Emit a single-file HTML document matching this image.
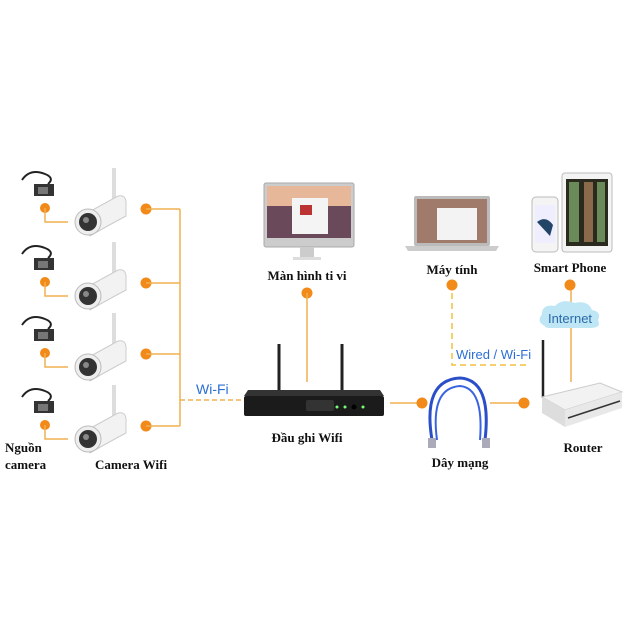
<!DOCTYPE html>
<html><head><meta charset="utf-8"><style>html,body{margin:0;padding:0;background:#fff}svg{display:block}
text{font-family:"Liberation Serif",serif;font-weight:bold;fill:#111}
.b{font-family:"Liberation Sans",sans-serif;font-weight:normal;fill:#2a6fd6}
</style></head><body>
<svg width="640" height="640" viewBox="0 0 640 640" xmlns="http://www.w3.org/2000/svg">
<defs>
<g id="cam">
  <line x1="114" y1="-40" x2="114" y2="-5" stroke="#ddd" stroke-width="4"/>
  <path d="M78 10 L118 -12 Q127 -14 126 -2 L126 8 Q100 22 90 28 Z" fill="#f2f2f2" stroke="#ccc"/>
  <circle cx="88" cy="14" r="13" fill="#eee" stroke="#bbb"/>
  <circle cx="88" cy="14" r="9" fill="#333"/>
  <circle cx="86" cy="12" r="3" fill="#888"/>
</g>
<g id="pw">
  <path d="M22 -28 Q30 -40 45 -34 Q55 -30 48 -24" fill="none" stroke="#222" stroke-width="2"/>
  <rect x="34" y="-24" width="20" height="12" fill="#333"/>
  <rect x="38" y="-21" width="10" height="7" fill="#777"/>
</g>
</defs>

<!-- cameras -->
<g id="c1" transform="translate(0,208)">
  <use href="#pw"/><circle cx="45" cy="0" r="5" fill="#f28a1a"/>
  <polyline points="45,0 45,14 68,14" fill="none" stroke="#f0b050" stroke-width="1.5"/>
  <use href="#cam"/>
  <circle cx="146" cy="1" r="5.5" fill="#f28a1a"/><line x1="146" y1="1" x2="180" y2="1" stroke="#f0b050" stroke-width="1.5"/>
</g>
<g transform="translate(0,282)">
  <use href="#pw"/><circle cx="45" cy="0" r="5" fill="#f28a1a"/>
  <polyline points="45,0 45,14 68,14" fill="none" stroke="#f0b050" stroke-width="1.5"/>
  <use href="#cam"/>
  <circle cx="146" cy="1" r="5.5" fill="#f28a1a"/><line x1="146" y1="1" x2="180" y2="1" stroke="#f0b050" stroke-width="1.5"/>
</g>
<g transform="translate(0,353)">
  <use href="#pw"/><circle cx="45" cy="0" r="5" fill="#f28a1a"/>
  <polyline points="45,0 45,14 68,14" fill="none" stroke="#f0b050" stroke-width="1.5"/>
  <use href="#cam"/>
  <circle cx="146" cy="1" r="5.5" fill="#f28a1a"/><line x1="146" y1="1" x2="180" y2="1" stroke="#f0b050" stroke-width="1.5"/>
</g>
<g transform="translate(0,425)">
  <use href="#pw"/><circle cx="45" cy="0" r="5" fill="#f28a1a"/>
  <polyline points="45,0 45,14 68,14" fill="none" stroke="#f0b050" stroke-width="1.5"/>
  <use href="#cam"/>
  <circle cx="146" cy="1" r="5.5" fill="#f28a1a"/><line x1="146" y1="1" x2="180" y2="1" stroke="#f0b050" stroke-width="1.5"/>
</g>
<line x1="180" y1="209" x2="180" y2="426" stroke="#f0b050" stroke-width="1.5"/>
<line x1="180" y1="400" x2="245" y2="400" stroke="#f0b050" stroke-width="1.5" stroke-dasharray="5,3"/>
<text class="b" x="196" y="394" font-size="14">Wi-Fi</text>
<text x="5" y="452" font-size="13">Nguồn</text>
<text x="5" y="469" font-size="13">camera</text>
<text x="95" y="469" font-size="13">Camera Wifi</text>

<!-- monitor -->
<rect x="264" y="183" width="90" height="64" rx="2" fill="#ccc" stroke="#aaa"/>
<rect x="267" y="186" width="84" height="52" fill="#6a4a5a"/>
<rect x="267" y="186" width="84" height="20" fill="#e7b79a"/>
<rect x="292" y="198" width="36" height="36" fill="#f4f4f4"/>
<rect x="300" y="205" width="12" height="10" fill="#b33"/>
<rect x="300" y="247" width="14" height="10" fill="#ccc"/>
<rect x="293" y="257" width="28" height="3" fill="#ddd"/>
<text x="307" y="280" font-size="13" text-anchor="middle">Màn hình ti vi</text>
<circle cx="307" cy="293" r="5.5" fill="#f28a1a"/>
<line x1="307" y1="293" x2="307" y2="382" stroke="#f0b050" stroke-width="1.5"/>

<!-- DVR -->
<line x1="279" y1="344" x2="279" y2="390" stroke="#222" stroke-width="3"/>
<line x1="342" y1="344" x2="342" y2="390" stroke="#222" stroke-width="3"/>
<path d="M248 390 L380 390 L384 396 L244 396 Z" fill="#333"/>
<rect x="244" y="396" width="140" height="20" rx="2" fill="#1b1b1b"/>
<rect x="306" y="400" width="28" height="11" rx="2" fill="#333"/>
<circle cx="337" cy="407" r="1.5" fill="#7f7"/><circle cx="345" cy="407" r="1.5" fill="#7f7"/><circle cx="363" cy="407" r="1.5" fill="#7f7"/>
<circle cx="354" cy="407" r="2.5" fill="#000"/>
<text x="307" y="442" font-size="13" text-anchor="middle">Đầu ghi Wifi</text>
<line x1="390" y1="403" x2="422" y2="403" stroke="#f0b050" stroke-width="1.5"/>
<circle cx="422" cy="403" r="5.5" fill="#f28a1a"/>

<!-- cable -->
<path d="M432 440 Q422 380 460 378 Q492 380 485 440" fill="none" stroke="#2a4fc8" stroke-width="3"/>
<path d="M437 440 Q430 388 460 386 Q484 388 480 440" fill="none" stroke="#3a63e0" stroke-width="2"/>
<rect x="428" y="438" width="8" height="10" fill="#aab"/><rect x="482" y="438" width="8" height="10" fill="#aab"/>
<text x="460" y="467" font-size="13" text-anchor="middle">Dây mạng</text>
<line x1="490" y1="403" x2="524" y2="403" stroke="#f0b050" stroke-width="1.5"/>
<circle cx="524" cy="403" r="5.5" fill="#f28a1a"/>

<!-- laptop -->
<rect x="414" y="196" width="76" height="50" rx="2" fill="#bbb"/>
<rect x="417" y="199" width="70" height="44" fill="#a07a6a"/>
<rect x="437" y="208" width="40" height="32" fill="#f3f3f3"/>
<path d="M405 246 L499 246 L496 251 L408 251 Z" fill="#ccc"/>
<text x="452" y="274" font-size="13" text-anchor="middle">Máy tính</text>
<circle cx="452" cy="285" r="5.5" fill="#f28a1a"/>
<polyline points="452,293 452,365 530,365" fill="none" stroke="#f0c040" stroke-width="1.5" stroke-dasharray="6,4"/>
<text class="b" x="456" y="359" font-size="13">Wired / Wi-Fi</text>

<!-- phone & tablet -->
<rect x="532" y="197" width="26" height="55" rx="4" fill="#f4f4f4" stroke="#bbb"/>
<rect x="535" y="205" width="20" height="38" fill="#eef"/>
<path d="M537 222 Q546 215 553 225 L550 236 Z" fill="#246"/>
<rect x="562" y="173" width="50" height="79" rx="3" fill="#f4f4f4" stroke="#bbb"/>
<rect x="566" y="179" width="42" height="67" fill="#2a2a1e"/>
<g fill="#6a8a5a"><rect x="569" y="182" width="10" height="60"/><rect x="584" y="182" width="9" height="60" fill="#8a6a4a"/><rect x="597" y="182" width="8" height="60"/></g>
<text x="570" y="272" font-size="13" text-anchor="middle">Smart Phone</text>
<circle cx="570" cy="285" r="5.5" fill="#f28a1a"/>
<line x1="571" y1="290" x2="571" y2="382" stroke="#f0b050" stroke-width="1.5"/>
<path d="M545 326 Q536 322 542 314 Q542 304 555 306 Q562 298 575 303 Q588 300 592 310 Q602 312 598 320 Q602 328 590 328 L550 328 Q545 328 545 326 Z" fill="#bfe6f5"/>
<text class="b" x="570" y="323" font-size="13" text-anchor="middle" style="fill:#2a6aa8">Internet</text>

<!-- router -->
<line x1="543" y1="340" x2="543" y2="398" stroke="#222" stroke-width="2.5"/>
<path d="M542 397 L600 383 L622 392 L565 410 Z" fill="#f2f2f2" stroke="#ccc"/>
<path d="M542 397 L565 410 L565 427 L542 413 Z" fill="#ddd"/>
<path d="M565 410 L622 392 L622 408 L565 427 Z" fill="#e8e8e8"/>
<line x1="568" y1="418" x2="620" y2="401" stroke="#333" stroke-width="1.5"/>
<text x="583" y="452" font-size="13" text-anchor="middle">Router</text>
</svg>
</body></html>
